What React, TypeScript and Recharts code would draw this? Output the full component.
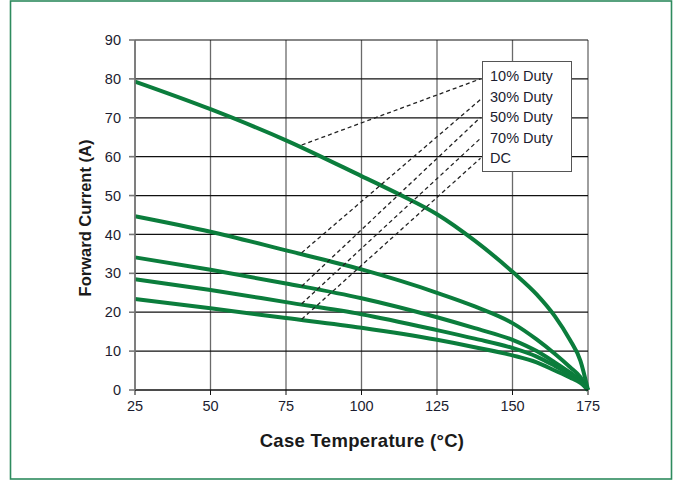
import React from "react";
import {
  LineChart,
  Line,
  XAxis,
  YAxis,
  CartesianGrid,
  ReferenceLine,
} from "recharts";

// Case temperature (°C) sample points
const temps10 = [25, 50, 75, 100, 112.5, 125, 137.5, 150, 158, 164, 169, 172.5, 175];
const tempsLow = [25, 50, 75, 100, 125, 137.5, 150, 158, 164, 169, 172.5, 175];

// Forward current (A) per duty cycle
const duty10 = [79.3, 72.2, 64.2, 55, 50.3, 45.2, 38.4, 30.4, 24.6, 19, 12.9, 7.5, 0];
const duty30 = [44.7, 40.7, 35.9, 31, 25, 21.5, 17.2, 13.0, 9.3, 5.9, 3.3, 0];
const duty50 = [34.1, 30.9, 27.4, 23.6, 18.7, 15.9, 12.9, 10.0, 7.1, 4.5, 2.5, 0];
const duty70 = [28.5, 25.7, 22.6, 19.5, 15.4, 13.2, 10.8, 8.6, 6.2, 4.0, 2.2, 0];
const dutyDC = [23.4, 21, 18.5, 16, 12.9, 11.0, 8.9, 7.1, 5.0, 3.2, 1.8, 0];

const seriesLabels = ["10% Duty", "30% Duty", "50% Duty", "70% Duty", "DC"];

// Leader line anchors (data coordinates)
const leaderStartT = 80.2;
const leaderStartI = [63, 35.3, 26.7, 22.2, 18.2];
const leaderEndT = 139.4;
const leaderEndI = [80, 74.7, 70.1, 64.7, 59.6];

const xTicks = [25, 50, 75, 100, 125, 150, 175];
const yTicks = [0, 10, 20, 30, 40, 50, 60, 70, 80, 90];

const toData = (ts: number[], vs: number[]) => ts.map((t, i) => ({ t, v: vs[i] }));

const series = [
  toData(temps10, duty10),
  toData(tempsLow, duty30),
  toData(tempsLow, duty50),
  toData(tempsLow, duty70),
  toData(tempsLow, dutyDC),
];

const FONT = "'Liberation Sans', Arial, sans-serif";
const GREEN = "#0b7d3c";

export default function App() {
  return (
    <div style={{ position: "absolute", left: 0, top: 0, width: 675, height: 483, background: "#fff" }}>
      <div style={{ position: "absolute", left: 0, top: 0 }}>
        <LineChart
          width={675}
          height={483}
          margin={{ top: 40, right: 87, bottom: 0, left: 0 }}
        >
          <CartesianGrid horizontal={false} vertical={true} stroke="#6a6a6a" strokeWidth={1.3} />
          <CartesianGrid horizontal={true} vertical={false} stroke="#111" strokeWidth={1.2} />
          <XAxis
            type="number"
            dataKey="t"
            domain={[25, 175]}
            ticks={xTicks}
            height={93}
            tickSize={5}
            tickMargin={6}
            stroke="#111"
            tick={{ fill: "#1c1c30", fontSize: 14.5, fontFamily: FONT }}
            allowDuplicatedCategory={false}
          />
          <YAxis
            type="number"
            dataKey="v"
            domain={[0, 90]}
            ticks={yTicks}
            width={135}
            tickSize={6}
            tickMargin={8}
            stroke="#777"
            strokeWidth={1.6}
            tick={{ fill: "#1c1c30", fontSize: 14.5, fontFamily: FONT }}
          />
          {series.map((d, i) => (
            <Line
              key={seriesLabels[i]}
              data={d}
              dataKey="v"
              name={seriesLabels[i]}
              type="monotone"
              stroke={GREEN}
              strokeWidth={4}
              dot={false}
              activeDot={false}
              isAnimationActive={false}
            />
          ))}
          {leaderStartI.map((s, i) => (
            <ReferenceLine
              key={"leader" + i}
              segment={[
                { x: leaderStartT, y: s },
                { x: leaderEndT, y: leaderEndI[i] },
              ]}
              stroke="#222"
              strokeWidth={1.3}
              strokeDasharray="4 3"
            />
          ))}
        </LineChart>
      </div>
      <svg
        width={675}
        height={483}
        style={{ position: "absolute", left: 0, top: 0, pointerEvents: "none" }}
      >
        <rect x={10.5} y={1} width={661} height={478} fill="none" stroke="#2e8b5e" strokeWidth={1.6} />
        <text
          x={362}
          y={447}
          textAnchor="middle"
          fontFamily={FONT}
          fontSize={18.5}
          fontWeight="bold"
          letterSpacing={0.3}
          fill="#1a1a1a"
        >
          Case Temperature (°C)
        </text>
        <text
          x={91}
          y={218}
          transform="rotate(-90 91 218)"
          textAnchor="middle"
          fontFamily={FONT}
          fontSize={16.5}
          fontWeight="bold"
          fill="#1a1a1a"
        >
          Forward Current (A)
        </text>
      </svg>
      <div
        style={{
          position: "absolute",
          left: 482,
          top: 61,
          width: 90,
          height: 111,
          border: "1px solid #555",
          background: "#fff",
          boxSizing: "border-box",
          paddingLeft: 7,
          paddingTop: 4,
          fontFamily: FONT,
          fontSize: 14.5,
          lineHeight: "20.5px",
          color: "#1c1c30",
        }}
      >
        {seriesLabels.map((l) => (
          <div key={l}>{l}</div>
        ))}
      </div>
    </div>
  );
}
